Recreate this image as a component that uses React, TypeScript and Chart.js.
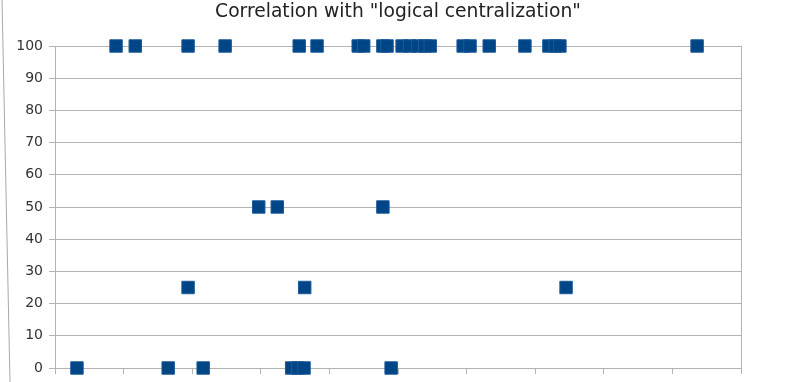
import React, { useEffect, useRef } from "react";
import { Chart, registerables } from "chart.js";

Chart.register(...registerables);

const titleText = 'Correlation with "logical centralization"';

// x positions of observations (x axis labels are cut off in the reference)
const xValues = [
  0.89, 1.17, 1.94, 2.48, 3.56, 3.82, 4.42, 4.5, 4.78, 4.84, 5.06, 5.17, 5.29, 5.39, 5.47,
  5.95, 6.05, 6.33, 6.85, 7.2, 7.29, 7.36, 9.36,
  2.97, 3.24, 4.78,
  1.94, 3.64, 7.45,
  0.32, 1.65, 2.16, 3.45, 3.54, 3.63, 4.9,
];
const yValues = [
  100, 100, 100, 100, 100, 100, 100, 100, 100, 100, 100, 100, 100, 100, 100,
  100, 100, 100, 100, 100, 100, 100, 100,
  50, 50, 50,
  25, 25, 25,
  0, 0, 0, 0, 0, 0, 0,
];

const xMin = 0;
const xMax = 10;
const yMin = 0;
const yMax = 100;
const yStep = 10;

const CANVAS_W = 787;
const CANVAS_H = 410;
const FONT = "'DejaVu Sans', 'Liberation Sans', sans-serif";

const frameLine = {
  id: "frameLine",
  afterDraw(chart: any) {
    const ctx = chart.ctx;
    ctx.save();
    ctx.strokeStyle = "#a8a8a8";
    ctx.lineWidth = 1;
    ctx.beginPath();
    ctx.moveTo(2, 0);
    ctx.lineTo(10, 382);
    ctx.stroke();
    ctx.restore();
  },
};

export default function App() {
  const ref = useRef<HTMLCanvasElement | null>(null);

  useEffect(() => {
    if (!ref.current) return;
    const data = xValues.map((x, i) => ({ x, y: yValues[i] }));
    const chart = new Chart(ref.current, {
      type: "scatter",
      data: {
        datasets: [
          {
            data,
            backgroundColor: "#004586",
            borderColor: "#1d5a9a",
            borderWidth: 1,
            pointStyle: "rect",
            pointRadius: 8.8,
            pointHoverRadius: 8.8,
            clip: false as any,
          },
        ],
      },
      options: {
        responsive: false,
        animation: false,
        devicePixelRatio: 1,
        layout: { padding: { left: 0, right: 46, top: 0, bottom: 0 } },
        plugins: {
          legend: { display: false },
          tooltip: { enabled: false },
          title: {
            display: true,
            text: titleText,
            fullSize: false,
            color: "#222222",
            font: { family: FONT, size: 18.7, weight: "normal" },
            padding: { top: 1, bottom: 22.56 },
          },
        },
        scales: {
          x: {
            type: "linear",
            min: xMin,
            max: xMax,
            afterFit: (s: any) => {
              s.height = CANVAS_H - 368;
            },
            ticks: {
              stepSize: 1,
              color: "#333333",
              font: { family: FONT, size: 14 },
              padding: 14,
            },
            border: { display: true, color: "#b3b3b3" },
            grid: {
              drawOnChartArea: true,
              color: (c: any) => (c.index === 10 ? "#b3b3b3" : "rgba(0,0,0,0)"),
              tickColor: "#b3b3b3",
              tickLength: 6,
            },
          },
          y: {
            type: "linear",
            min: yMin,
            max: yMax,
            afterFit: (s: any) => {
              s.width = 55;
            },
            ticks: {
              stepSize: yStep,
              color: "#333333",
              font: { family: FONT, size: 14 },
              padding: 6,
            },
            border: { display: true, color: "#b3b3b3" },
            grid: {
              color: "#b3b3b3",
              tickColor: "#b3b3b3",
              tickLength: 6,
            },
          },
        },
      },
      plugins: [frameLine],
    });
    return () => chart.destroy();
  }, []);

  return (
    <div
      style={{
        position: "fixed",
        left: 0,
        top: 0,
        width: CANVAS_W,
        height: 382,
        overflow: "hidden",
        background: "#ffffff",
      }}
    >
      <canvas ref={ref} width={CANVAS_W} height={CANVAS_H} style={{ display: "block" }} />
    </div>
  );
}
